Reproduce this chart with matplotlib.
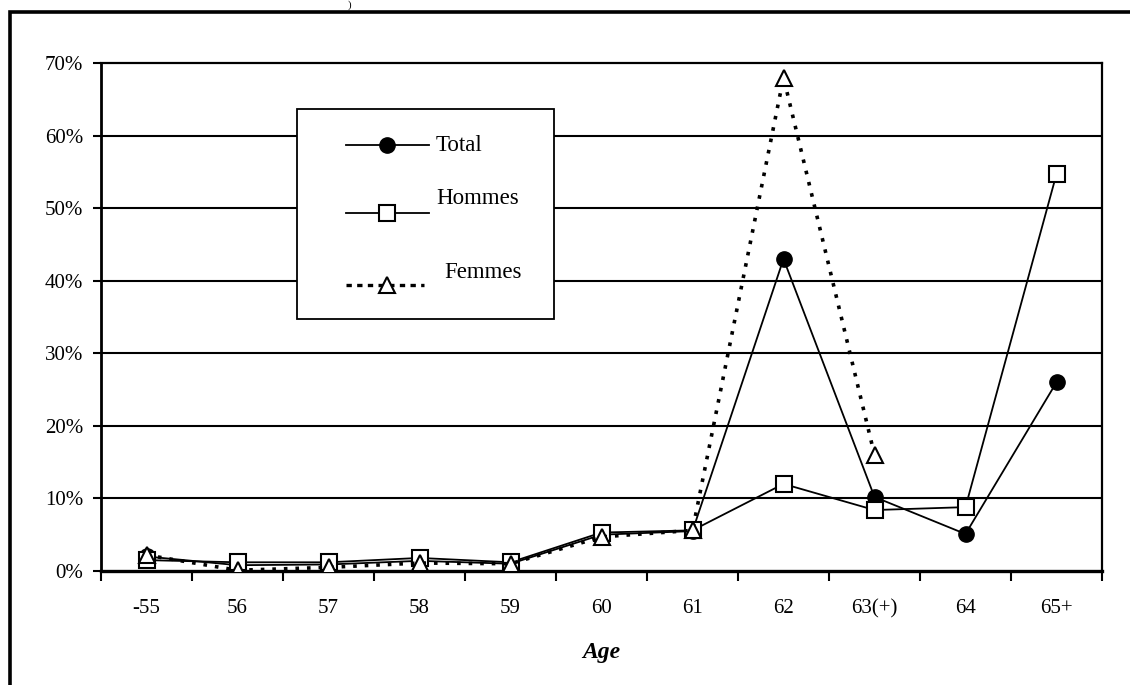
import matplotlib
matplotlib.use('Agg')
import matplotlib.pyplot as plt
from matplotlib.patches import Rectangle
import numpy as np

plt.rcParams['font.family'] = ['Liberation Serif', 'DejaVu Serif']

ages = ['-55', '56', '57', '58', '59', '60', '61', '62', '63(+)', '64', '65+']
total = [2.0, 0.8, 0.9, 1.4, 1.0, 5.0, 5.5, 43.0, 10.2, 5.1, 26.0]
hommes = [1.5, 1.2, 1.2, 1.8, 1.2, 5.3, 5.6, 12.0, 8.4, 8.8, 54.7]
femmes = [2.2, 0.1, 0.5, 1.1, 1.0, 4.7, 5.6, 68.0, 16.0]
yticks = [0, 10, 20, 30, 40, 50, 60, 70]

W, H = 1130, 685
fig = plt.figure(figsize=(W/100., H/100.), dpi=100)
ax = fig.add_axes([101./W, 1-571./H, (1102.-101)/W, (571.-63)/H])

x = np.arange(len(ages))
ax.set_xlim(-0.5, len(ages)-0.5)
ax.set_ylim(0, 70)

# horizontal grid
for v in yticks[1:-1]:
  ax.axhline(v, color='k', lw=1.5, zorder=1)

ax.plot(x, total, 'k-', lw=1.3, marker='o', ms=11, mfc='k', mec='k', zorder=3)
ax.plot(x, hommes, 'k-', lw=1.3, marker='s', ms=11, mfc='w', mec='k', mew=1.5, zorder=4)
ax.plot(x[:len(femmes)], femmes, color='k', lw=2.6, dashes=(1, 2.2), marker='^', ms=12,
        mfc='w', mec='k', mew=1.5, zorder=5)

for s in ax.spines.values():
  s.set_linewidth(1.6)
ax.spines['left'].set_linewidth(2)
ax.spines['bottom'].set_linewidth(2.4)

ax.set_yticks(yticks)
ax.set_yticklabels(['%d%%' % v for v in yticks], fontsize=15)
ax.set_xticks(x)
ax.set_xticklabels(ages, fontsize=15)
ax.set_xticks(np.arange(len(ages)+1)-0.5, minor=True)
ax.tick_params(axis='x', which='major', length=0, pad=20)
ax.tick_params(axis='x', which='minor', length=7, width=1.5, direction='out')
ax.tick_params(axis='y', length=6, width=1.5, direction='out', pad=7)
ax.set_xlabel('Age', fontsize=17, fontweight='bold', style='italic', labelpad=17)

# overlay in pixel coords for the frame and the legend
ov = fig.add_axes([0, 0, 1, 1], zorder=10)
ov.set_xlim(0, W); ov.set_ylim(H, 0); ov.axis('off')
ov.patch.set_visible(False)

ov.plot([10, 10, W], [H, 12, 12], 'k-', lw=2.6, solid_joinstyle='miter')
ov.text(350, 5, ')', fontsize=8, ha='center', va='center')

ov.add_patch(Rectangle((297, 109), 257, 210, fc='w', ec='k', lw=1.3))
ov.plot([346, 429], [145, 145], 'k-', lw=1.3)
ov.plot([387], [145], 'o', ms=11, color='k')
ov.text(436, 145, 'Total', fontsize=16.5, va='center')
ov.plot([346, 429], [213, 213], 'k-', lw=1.3)
ov.plot([387], [213], 's', ms=11, mfc='w', mec='k', mew=1.5)
ov.text(436, 198, 'Hommes', fontsize=16.5, va='center')
ov.plot([346, 424], [285, 285], color='k', lw=2.4, dashes=(1.6, 1.6))
ov.plot([387], [285], '^', ms=12, mfc='w', mec='k', mew=1.5)
ov.text(444, 272, 'Femmes', fontsize=16.5, va='center')

fig.savefig('out.png', dpi=100)
